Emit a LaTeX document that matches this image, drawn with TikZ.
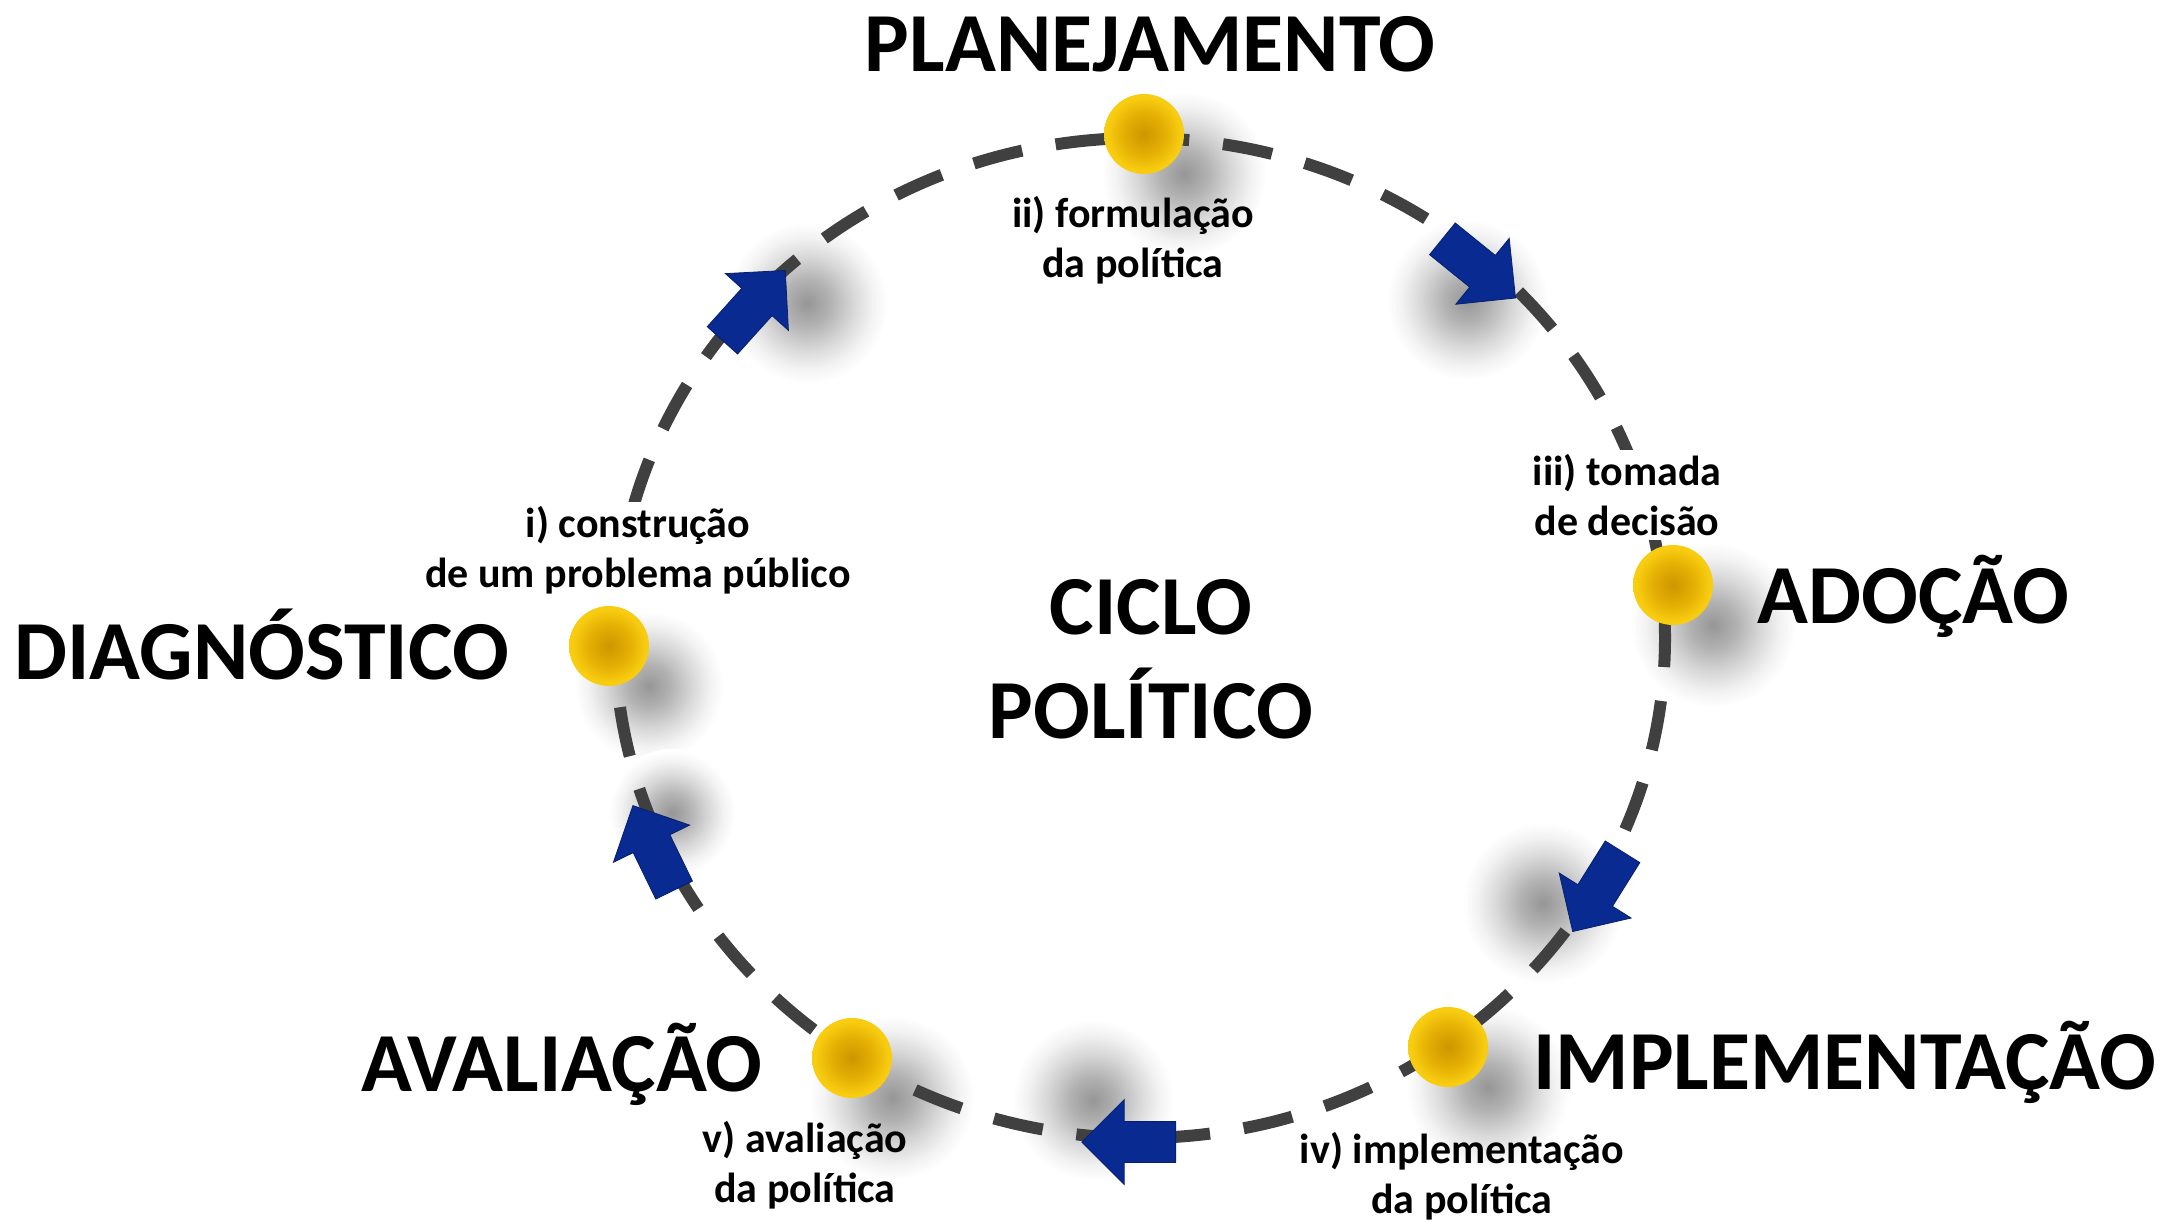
\documentclass[tikz,border=0pt]{standalone}
\usepackage{fontspec}
\setmainfont{Carlito}
\usetikzlibrary{shapes.arrows}

\definecolor{ringgray}{RGB}{64,64,64}
\definecolor{arrowblue}{RGB}{8,42,145}
\definecolor{ballcore}{RGB}{205,150,0}
\definecolor{ballmid}{RGB}{228,176,4}
\definecolor{ballrim}{RGB}{248,204,16}
\definecolor{blobdark}{RGB}{150,150,150}
\definecolor{blobmid}{RGB}{178,178,178}
\definecolor{bloblight}{RGB}{215,215,215}
\definecolor{blobpale}{RGB}{242,242,242}

\pgfdeclareradialshading{blob}{\pgfpoint{0bp}{0bp}}{color(0bp)=(blobdark); color(7bp)=(blobmid); color(14bp)=(bloblight); color(20bp)=(blobpale); color(24.5bp)=(white); color(50bp)=(white)}
\pgfdeclareradialshading{gold}{\pgfpoint{0bp}{0bp}}{color(0bp)=(ballcore); color(13bp)=(ballmid); color(23bp)=(ballrim); color(50bp)=(ballrim)}

\begin{document}
\begin{tikzpicture}[
    x=0.5pt, y=0.5pt,
    ring/.style={draw=ringgray, line width=6pt, dash pattern=on 25pt off 17pt},
    ball/.style={circle, minimum size=40pt, inner sep=0pt, shade, shading=gold},
    blockarrow/.style={single arrow, fill=arrowblue, draw=arrowblue!75!black, line width=0.4pt, inner sep=10pt, minimum height=47pt, single arrow head extend=11pt},
    blobshade/.style={shading=blob},
    stage/.style={font=\fontsize{42}{52}\selectfont\bfseries, inner sep=0pt},
    steplabel/.style={align=center, font=\fontsize{21}{25}\selectfont\bfseries, inner sep=2pt},
    masked/.style={fill=white}
]
    \useasboundingbox (0,0) rectangle (2166,1221);

    % Stops on the ring
    \coordinate (pPlan) at (1144,1087);
    \coordinate (pAdoc) at (1673,636);
    \coordinate (pImpl) at (1448,174);
    \coordinate (pAval) at (852,163);
    \coordinate (pDiag) at (609,575);

    % Shadows
    \foreach \p in {pPlan,pAdoc,pImpl,pAval}
        \shade[blobshade] ([shift={(40,-40)}]\p) circle (84);
    \shade[blobshade] ([shift={(40,-40)}]pDiag) circle (76);
    \shade[blobshade] (1467,921) circle (82);
    \shade[blobshade] (1543,318) circle (82);
    \shade[blobshade] (1093,121) circle (82);
    \shade[blobshade] (672,408) circle (64);
    \shade[blobshade] (807,918) circle (82);

    % Ring
    \draw[ring] (1140,583) ellipse [x radius=525, y radius=500];

    % Arrows
    \node[blockarrow, rotate=-39] (arrPlan) at (1471,959) {};
    \node[blockarrow, rotate=-122] (arrAdoc) at (1603,338) {};
    \node[blockarrow, rotate=180] (arrImpl) at (1139,79) {};
    \node[blockarrow, rotate=116] (arrAval) at (658,364) {};
    \node[blockarrow, rotate=48] (arrDiag) at (747,908) {};

    % Balls
    \node[ball] (bPlan) at (pPlan) {};
    \node[ball] (bAdoc) at (pAdoc) {};
    \node[ball] (bImpl) at (pImpl) {};
    \node[ball] (bAval) at (pAval) {};
    \node[ball] (bDiag) at (pDiag) {};

    % Stage names
    \node[stage, anchor=base] (plan) at (1150,1149) {PLANEJAMENTO};
    \node[stage, anchor=base west] (adoc) at (1757,597) {ADOÇÃO};
    \node[stage, anchor=base west] (impl) at (1533,132) {IMPLEMENTAÇÃO};
    \node[stage, anchor=base east] (aval) at (763,130) {AVALIAÇÃO};
    \node[stage, anchor=base west] (diag) at (14,541) {DIAGNÓSTICO};
    \node[stage, align=center] (ciclo) at (1151,562) {CICLO\\POLÍTICO};

    % Steps
    \node[steplabel, masked] (lblDiag) at (638,671) {i) construção\\de um problema público};
    \node[steplabel] (lblPlan) at (1133,981) {ii) formulação\\da política};
    \node[steplabel, masked] (lblAdoc) at (1627,726) {iii) tomada\\de decisão};
    \node[steplabel] (lblImpl) at (1462,45) {iv) implementação\\da política};
    \node[steplabel] (lblAval) at (805,56) {v) avaliação\\da política};
\end{tikzpicture}
\end{document}
